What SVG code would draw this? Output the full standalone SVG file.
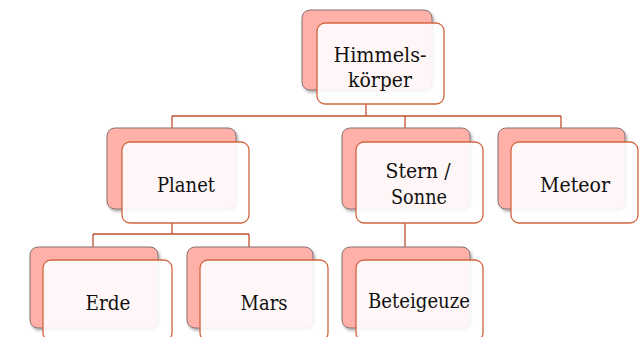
<svg xmlns="http://www.w3.org/2000/svg" width="643" height="337" viewBox="0 0 643 337">
<defs>
<style>
.back{fill:#FFB1A9;stroke:#8a7070;stroke-width:1}
.front{fill:#FFFFFF;fill-opacity:0.9;stroke:#D2663F;stroke-width:1.3}
.conn{fill:none;stroke:#C0502E;stroke-width:1.3}
.lbl{font-family:"DejaVu Serif",serif;font-size:20.5px;fill:#111;text-anchor:middle}
</style>
<filter id="sh" x="-10%" y="-10%" width="130%" height="130%">
<feDropShadow dx="1.5" dy="2" stdDeviation="1.5" flood-color="#000" flood-opacity="0.35"/>
</filter>
</defs>
<rect width="643" height="337" fill="#fff"/>
<g id="connectors">
<path class="conn" d="M366,104 V116 M172,116 H561 M172,116 V128 M405,116 V128 M561,116 V128"/>
<path class="conn" d="M172,223 V234 M93,234 H249 M93,234 V247 M249,234 V247"/>
<path class="conn" d="M405,223 V247"/>
</g>
<g id="n-himmelskoerper">
<rect class="back" x="302" y="10" width="130" height="80" rx="8" filter="url(#sh)"/>
<rect class="front" x="317" y="23" width="127" height="81" rx="8"/>
<text class="lbl" x="380" y="62" textLength="93" lengthAdjust="spacingAndGlyphs">Himmels-</text>
<text class="lbl" x="380" y="87" textLength="64" lengthAdjust="spacingAndGlyphs">körper</text>
</g>
<g id="n-planet">
<rect class="back" x="107" y="128" width="129" height="81" rx="8" filter="url(#sh)"/>
<rect class="front" x="122" y="142" width="127" height="81" rx="8"/>
<text class="lbl" x="186" y="192" textLength="58" lengthAdjust="spacingAndGlyphs">Planet</text>
</g>
<g id="n-stern">
<rect class="back" x="342" y="128" width="128" height="81" rx="8" filter="url(#sh)"/>
<rect class="front" x="356" y="142" width="127" height="81" rx="8"/>
<text class="lbl" x="418" y="178" textLength="65" lengthAdjust="spacingAndGlyphs">Stern /</text>
<text class="lbl" x="419" y="204" textLength="56" lengthAdjust="spacingAndGlyphs">Sonne</text>
</g>
<g id="n-meteor">
<rect class="back" x="498" y="128" width="127" height="81" rx="8" filter="url(#sh)"/>
<rect class="front" x="511" y="142" width="127" height="81" rx="8"/>
<text class="lbl" x="575" y="192" textLength="70" lengthAdjust="spacingAndGlyphs">Meteor</text>
</g>
<g id="n-erde">
<rect class="back" x="30" y="247" width="128" height="81" rx="8" filter="url(#sh)"/>
<rect class="front" x="43" y="260" width="129" height="81" rx="8"/>
<text class="lbl" x="108" y="310" textLength="45" lengthAdjust="spacingAndGlyphs">Erde</text>
</g>
<g id="n-mars">
<rect class="back" x="187" y="247" width="126" height="81" rx="8" filter="url(#sh)"/>
<rect class="front" x="200" y="260" width="128" height="81" rx="8"/>
<text class="lbl" x="264" y="310" textLength="47" lengthAdjust="spacingAndGlyphs">Mars</text>
</g>
<g id="n-beteigeuze">
<rect class="back" x="342" y="247" width="128" height="81" rx="8" filter="url(#sh)"/>
<rect class="front" x="356" y="260" width="127" height="81" rx="8"/>
<text class="lbl" x="419" y="308" textLength="102" lengthAdjust="spacingAndGlyphs">Beteigeuze</text>
</g>
</svg>
